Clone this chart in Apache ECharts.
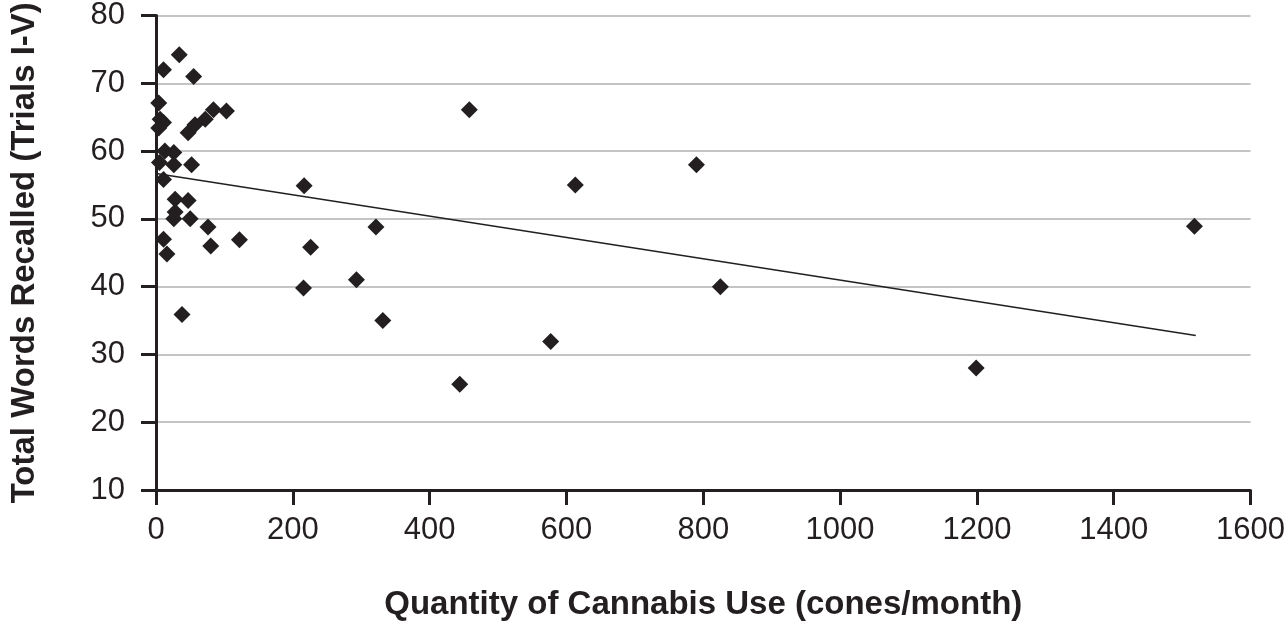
<!DOCTYPE html>
<html>
<head>
<meta charset="utf-8">
<script src="https://cdn.jsdelivr.net/npm/echarts@6/dist/echarts.min.js"></script>
<style>html,body{margin:0;padding:0;background:#fff;}#c{width:1288px;height:626px;}</style>
</head>
<body>
<div id="c"></div>
<script>
var useX = [34,11,55,4,6,11,4,47,57,72,84,103,13,26,5,26,52,11,28,47,28,26,50,76,11,16,80,122,38,216.5,321.5,226,293,215.6,331.6,444,458,577,613,790,825,1199,1518];
var wordsY = [74.2,72,71,67.1,64.7,64.2,63.4,62.7,63.9,64.7,66.1,65.9,60,59.8,58.3,58,58,55.8,52.9,52.7,51,50,50,48.8,47,44.8,46,46.9,35.9,54.9,48.8,45.8,41,39.8,35,25.6,66.1,31.9,55,58,40,28,48.9];
var trendX = [0, 1520];
var trendY = [56.7, 32.8];
var xTicks = [0,200,400,600,800,1000,1200,1400,1600];
var yTicks = [10,20,30,40,50,60,70,80];

var pts = useX.map(function(x,i){return [x, wordsY[i]];});
var trend = trendX.map(function(x,i){return [x, trendY[i]];});
var font = "'Liberation Sans', Arial, sans-serif";
var ink = '#231f20';
var chart = echarts.init(document.getElementById('c'));
chart.setOption({
  animation:false,
  grid:{left:149,right:36,top:15.5,bottom:133,containLabel:false},
  xAxis:{type:'value',min:xTicks[0],max:xTicks[xTicks.length-1],interval:200,
    name:'Quantity of Cannabis Use (cones/month)',nameLocation:'middle',nameGap:98,
    nameTextStyle:{fontFamily:font,fontWeight:'bold',fontSize:33,color:ink},
    axisLine:{onZero:false,lineStyle:{color:ink,width:3}},
    axisTick:{show:true,length:15,lineStyle:{color:ink,width:3}},
    axisLabel:{fontFamily:font,fontSize:31,color:ink,margin:25,formatter:function(v){return String(v);}},
    splitLine:{show:false}},
  yAxis:{type:'value',min:yTicks[0],max:yTicks[yTicks.length-1],interval:10,
    name:'Total Words Recalled (Trials I-V)',nameLocation:'middle',nameGap:115,
    nameTextStyle:{fontFamily:font,fontWeight:'bold',fontSize:33,color:ink},
    axisLine:{show:true,onZero:false,lineStyle:{color:ink,width:3}},
    axisTick:{show:true,length:15,lineStyle:{color:ink,width:3}},
    axisLabel:{fontFamily:font,fontSize:31,color:ink,margin:31},
    splitLine:{show:true,lineStyle:{color:'#c4c4c4',width:2}}},
  series:[
    {type:'line',data:trend,symbol:'none',lineStyle:{color:ink,width:1.5},z:1},
    {type:'scatter',data:pts,symbol:'diamond',symbolSize:17,itemStyle:{color:ink,opacity:1},z:2}
  ]
});
</script>
</body>
</html>
